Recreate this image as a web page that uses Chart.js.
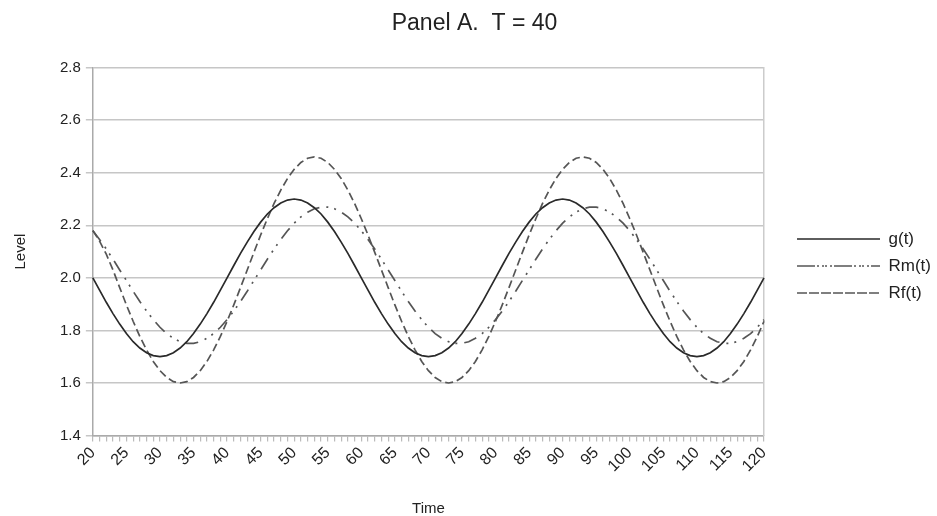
<!DOCTYPE html>
<html>
<head>
<meta charset="utf-8">
<script src="https://cdn.jsdelivr.net/npm/chart.js@4.4.0/dist/chart.umd.min.js"></script>
<style>
  body { margin: 0; background: #fff; }
  #wrap { width: 937px; height: 516px; }
</style>
</head>
<body>
<div id="wrap"><canvas id="panelA" width="937" height="516"></canvas></div>
<script>
// time axis, 20..120
const times = [
  20, 21, 22, 23, 24, 25, 26, 27, 28, 29, 30, 31, 32, 33, 34, 35, 36, 37, 38, 39,
  40, 41, 42, 43, 44, 45, 46, 47, 48, 49, 50, 51, 52, 53, 54, 55, 56, 57, 58, 59,
  60, 61, 62, 63, 64, 65, 66, 67, 68, 69, 70, 71, 72, 73, 74, 75, 76, 77, 78, 79,
  80, 81, 82, 83, 84, 85, 86, 87, 88, 89, 90, 91, 92, 93, 94, 95, 96, 97, 98, 99,
  100, 101, 102, 103, 104, 105, 106, 107, 108, 109, 110, 111, 112, 113, 114, 115, 116, 117, 118, 119,
  120
];

const gValues = [
  2.000, 1.953, 1.907, 1.864, 1.824, 1.788, 1.757, 1.733, 1.715, 1.704, 1.700, 1.704, 1.715, 1.733, 1.757, 1.788, 1.824, 1.864, 1.907, 1.953,
  2.000, 2.047, 2.093, 2.136, 2.176, 2.212, 2.243, 2.267, 2.285, 2.296, 2.300, 2.296, 2.285, 2.267, 2.243, 2.212, 2.176, 2.136, 2.093, 2.047,
  2.000, 1.953, 1.907, 1.864, 1.824, 1.788, 1.757, 1.733, 1.715, 1.704, 1.700, 1.704, 1.715, 1.733, 1.757, 1.788, 1.824, 1.864, 1.907, 1.953,
  2.000, 2.047, 2.093, 2.136, 2.176, 2.212, 2.243, 2.267, 2.285, 2.296, 2.300, 2.296, 2.285, 2.267, 2.243, 2.212, 2.176, 2.136, 2.093, 2.047,
  2.000, 1.953, 1.907, 1.864, 1.824, 1.788, 1.757, 1.733, 1.715, 1.704, 1.700, 1.704, 1.715, 1.733, 1.757, 1.788, 1.824, 1.864, 1.907, 1.953,
  2.000
];

const rmValues = [
  2.179, 2.146, 2.110, 2.071, 2.030, 1.990, 1.949, 1.910, 1.874, 1.841, 1.812, 1.788, 1.770, 1.757, 1.751, 1.751, 1.757, 1.770, 1.788, 1.812,
  1.841, 1.874, 1.910, 1.949, 1.990, 2.030, 2.071, 2.110, 2.146, 2.179, 2.208, 2.232, 2.250, 2.263, 2.269, 2.269, 2.263, 2.250, 2.232, 2.208,
  2.179, 2.146, 2.110, 2.071, 2.030, 1.990, 1.949, 1.910, 1.874, 1.841, 1.812, 1.788, 1.770, 1.757, 1.751, 1.751, 1.757, 1.770, 1.788, 1.812,
  1.841, 1.874, 1.910, 1.949, 1.990, 2.030, 2.071, 2.110, 2.146, 2.179, 2.208, 2.232, 2.250, 2.263, 2.269, 2.269, 2.263, 2.250, 2.232, 2.208,
  2.179, 2.146, 2.110, 2.071, 2.030, 1.990, 1.949, 1.910, 1.874, 1.841, 1.812, 1.788, 1.770, 1.757, 1.751, 1.751, 1.757, 1.770, 1.788, 1.812,
  1.841
];

const rfValues = [
  2.180, 2.140, 2.090, 2.030, 1.963, 1.897, 1.835, 1.777, 1.726, 1.682, 1.647, 1.621, 1.605, 1.600, 1.605, 1.621, 1.647, 1.682, 1.726, 1.777,
  1.835, 1.897, 1.963, 2.030, 2.097, 2.163, 2.225, 2.283, 2.334, 2.378, 2.413, 2.439, 2.455, 2.460, 2.455, 2.439, 2.413, 2.378, 2.334, 2.283,
  2.225, 2.163, 2.097, 2.030, 1.963, 1.897, 1.835, 1.777, 1.726, 1.682, 1.647, 1.621, 1.605, 1.600, 1.605, 1.621, 1.647, 1.682, 1.726, 1.777,
  1.835, 1.897, 1.963, 2.030, 2.097, 2.163, 2.225, 2.283, 2.334, 2.378, 2.413, 2.439, 2.455, 2.460, 2.455, 2.439, 2.413, 2.378, 2.334, 2.283,
  2.225, 2.163, 2.097, 2.030, 1.963, 1.897, 1.835, 1.777, 1.726, 1.682, 1.647, 1.621, 1.605, 1.600, 1.605, 1.621, 1.647, 1.682, 1.726, 1.777,
  1.835
];

const seriesNames = ['g(t)', 'Rm(t)', 'Rf(t)'];

const FONT = '"Liberation Sans", Arial, sans-serif';

const data = {
  labels: times.map(String),
  datasets: [
    { label: seriesNames[0], data: gValues, borderColor: '#2a2a2a', backgroundColor: '#2a2a2a', borderWidth: 1.7, borderDash: [] },
    { label: seriesNames[1], data: rmValues, borderColor: '#555', backgroundColor: '#555', borderWidth: 1.7, borderDash: [13, 7, 2, 6, 2, 7] },
    { label: seriesNames[2], data: rfValues, borderColor: '#555', backgroundColor: '#555', borderWidth: 1.7, borderDash: [8, 4] }
  ]
};

const config = {
  type: 'line',
  data: data,
  options: {
    responsive: false,
    animation: false,
    devicePixelRatio: 1,
    layout: { padding: { left: 8, right: -4, top: 4, bottom: -6 } },
    elements: { point: { radius: 0 }, line: { tension: 0 } },
    plugins: {
      title: {
        display: true,
        text: 'Panel A.  T = 40',
        color: '#222',
        font: { family: FONT, size: 23, weight: 'normal' },
        padding: { top: 6, bottom: 30 }
      },
      legend: {
        position: 'right',
        // small empty title only nudges the entries down a little
        title: { display: true, text: ' ', font: { size: 5 }, padding: 0 },
        labels: {
          boxWidth: 83,
          boxHeight: 0,
          padding: 10,
          color: '#222',
          font: { family: FONT, size: 17 }
        }
      },
      tooltip: { enabled: false }
    },
    scales: {
      x: {
        type: 'category',
        grid: { drawOnChartArea: false, drawTicks: true, tickLength: 6, color: '#bbb', lineWidth: 1.2 },
        border: { color: '#aaa', width: 1.5 },
        ticks: {
          autoSkip: false,
          maxRotation: 45,
          minRotation: 45,
          padding: 2,
          color: '#222',
          font: { family: FONT, size: 16 },
          callback: (v, i) => (times[i] % 5 === 0 ? String(times[i]) : '')
        },
        title: { display: true, text: 'Time', color: '#222', font: { family: FONT, size: 15 }, padding: { top: 22 } }
      },
      y: {
        min: 1.4,
        max: 2.8,
        grid: { color: '#c6c6c6', lineWidth: 1.5, tickLength: 7 },
        border: { color: '#aaa', width: 1.5 },
        ticks: {
          stepSize: 0.2,
          padding: 5,
          color: '#222',
          font: { family: FONT, size: 15 },
          callback: v => v.toFixed(1)
        },
        title: { display: true, text: 'Level', color: '#222', font: { family: FONT, size: 15 }, padding: { bottom: 25 } }
      },
      yRight: {
        position: 'right',
        min: 1.4,
        max: 2.8,
        grid: { drawOnChartArea: false, drawTicks: false },
        border: { color: '#ccc', width: 1.5 },
        ticks: { display: false },
        afterFit: scale => { scale.width = 23; }
      }
    }
  }
};

const panelA = new Chart(document.getElementById('panelA'), config);
</script>
</body>
</html>
